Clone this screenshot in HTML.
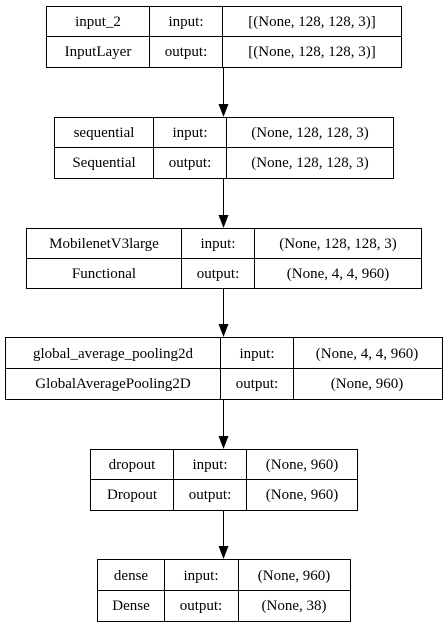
<!DOCTYPE html>
<html><head><meta charset="utf-8"><style>
html,body{margin:0;padding:0;background:#fff;}
svg{display:block;}
text{font-family:"Liberation Serif","Liberation Sans",serif;font-size:15px;fill:#000;text-anchor:middle;}
</style></head><body>
<svg width="447" height="627" viewBox="0 0 447 627" xmlns="http://www.w3.org/2000/svg">
<g fill="none" stroke="#000" stroke-width="1">
<rect x="46.5" y="6.5" width="355" height="61"/>
<line x1="46" y1="36.5" x2="401" y2="36.5"/>
<line x1="149.5" y1="6" x2="149.5" y2="67"/>
<line x1="222.5" y1="6" x2="222.5" y2="67"/>
<rect x="54.5" y="117.5" width="339" height="61"/>
<line x1="54" y1="147.5" x2="393" y2="147.5"/>
<line x1="153.5" y1="117" x2="153.5" y2="178"/>
<line x1="226.5" y1="117" x2="226.5" y2="178"/>
<rect x="26.5" y="228.5" width="395" height="60"/>
<line x1="26" y1="258.5" x2="421" y2="258.5"/>
<line x1="181.5" y1="228" x2="181.5" y2="288"/>
<line x1="254.5" y1="228" x2="254.5" y2="288"/>
<rect x="5.5" y="337.5" width="437" height="62"/>
<line x1="5" y1="368.5" x2="442" y2="368.5"/>
<line x1="220.5" y1="337" x2="220.5" y2="399"/>
<line x1="293.5" y1="337" x2="293.5" y2="399"/>
<rect x="90.5" y="449.5" width="267" height="61"/>
<line x1="90" y1="479.5" x2="357" y2="479.5"/>
<line x1="173.5" y1="449" x2="173.5" y2="510"/>
<line x1="246.5" y1="449" x2="246.5" y2="510"/>
<rect x="97.5" y="559.5" width="253" height="62"/>
<line x1="97" y1="590.5" x2="350" y2="590.5"/>
<line x1="164.5" y1="559" x2="164.5" y2="621"/>
<line x1="238.5" y1="559" x2="238.5" y2="621"/>
<line x1="223.5" y1="67" x2="223.5" y2="104"/>
<line x1="223.5" y1="178" x2="223.5" y2="215"/>
<line x1="223.5" y1="288" x2="223.5" y2="324"/>
<line x1="223.5" y1="399" x2="223.5" y2="436"/>
<line x1="223.5" y1="510" x2="223.5" y2="546"/>
</g>
<g fill="#000">
<polygon points="218.5,104 228.5,104 223.5,117"/>
<polygon points="218.5,215 228.5,215 223.5,228"/>
<polygon points="218.5,324 228.5,324 223.5,337"/>
<polygon points="218.5,436 228.5,436 223.5,449"/>
<polygon points="218.5,546 228.5,546 223.5,559"/>
</g>
<g>
<text x="98" y="26">input_2</text>
<text x="186" y="26">input:</text>
<text x="312" y="26">[(None, 128, 128, 3)]</text>
<text x="98" y="56">InputLayer</text>
<text x="186" y="56">output:</text>
<text x="312" y="56">[(None, 128, 128, 3)]</text>

<text x="104" y="137">sequential</text>
<text x="190" y="137">input:</text>
<text x="310" y="137">(None, 128, 128, 3)</text>
<text x="104" y="167">Sequential</text>
<text x="190" y="167">output:</text>
<text x="310" y="167">(None, 128, 128, 3)</text>

<text x="104" y="248">MobilenetV3large</text>
<text x="218" y="248">input:</text>
<text x="338" y="248">(None, 128, 128, 3)</text>
<text x="104" y="278">Functional</text>
<text x="218" y="278">output:</text>
<text x="338" y="278">(None, 4, 4, 960)</text>

<text x="113" y="358">global_average_pooling2d</text>
<text x="257" y="358">input:</text>
<text x="367" y="358">(None, 4, 4, 960)</text>
<text x="113" y="388">GlobalAveragePooling2D</text>
<text x="257" y="388">output:</text>
<text x="367" y="388">(None, 960)</text>

<text x="132" y="469">dropout</text>
<text x="210" y="469">input:</text>
<text x="302" y="469">(None, 960)</text>
<text x="132" y="499">Dropout</text>
<text x="210" y="499">output:</text>
<text x="302" y="499">(None, 960)</text>

<text x="131" y="580">dense</text>
<text x="201" y="580">input:</text>
<text x="294" y="580">(None, 960)</text>
<text x="131" y="610">Dense</text>
<text x="201" y="610">output:</text>
<text x="294" y="610">(None, 38)</text>
</g>
</svg>
</body></html>
